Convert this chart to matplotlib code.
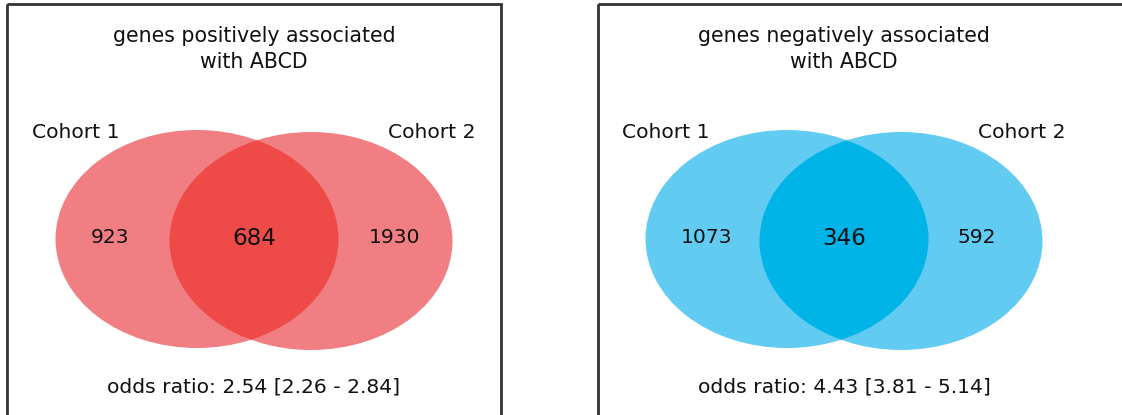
import matplotlib.pyplot as plt
from matplotlib.patches import Ellipse, Rectangle

# data
titles = ["genes positively associated\nwith ABCD", "genes negatively associated\nwith ABCD"]
set_labels = ["Cohort 1", "Cohort 2"]
only_1 = [923, 1073]
both = [684, 346]
only_2 = [1930, 592]
odds = [2.54, 4.43]
ci_low = [2.26, 3.81]
ci_high = [2.84, 5.14]

light = ["#f07e82", "#62cbf1"]
dark = ["#ee4a47", "#00b4e8"]

W, H = 1122, 415
fig = plt.figure(figsize=(W / 100, H / 100), dpi=100)
ax = fig.add_axes([0, 0, 1, 1])
ax.set_xlim(0, W)
ax.set_ylim(H, 0)
ax.axis("off")

# panel frames (pixel space): left x, right x, venn centre x, label offsets
panels = [(7, 501, 254, -144, 141), (598, 1135, 844, -137, 133)]

for i, (x0, x1, cx, dl, dr) in enumerate(panels):
    ax.add_patch(Rectangle((x0, 4), x1 - x0, H + 20, fill=False,
                           edgecolor="#333333", linewidth=2, zorder=5))

    c1 = (cx - 57, 239)
    c2 = (cx + 57, 241)
    ax.add_patch(Ellipse(c1, 283, 218, facecolor=light[i], edgecolor="none", zorder=1))
    ax.add_patch(Ellipse(c2, 283, 218, facecolor=light[i], edgecolor="none", zorder=1))
    # overlap: second ellipse clipped by the first
    clip = Ellipse(c1, 283, 218, facecolor="none", edgecolor="none")
    ax.add_patch(clip)
    mid = Ellipse(c2, 283, 218, facecolor=dark[i], edgecolor="none", zorder=2)
    ax.add_patch(mid)
    mid.set_clip_path(clip)

    ax.text(cx, 68, titles[i], ha="center", va="baseline", fontsize=14.8,
            linespacing=1.35, color="#111111")
    ax.text(cx - 222, 138, set_labels[0], ha="left", va="baseline", fontsize=14.6, color="#111111")
    ax.text(cx + 222, 138, set_labels[1], ha="right", va="baseline", fontsize=14.6, color="#111111")

    ax.text(cx + dl, 243, str(only_1[i]), ha="center", va="baseline", fontsize=14.6, color="#111111", zorder=3)
    ax.text(cx, 245, str(both[i]), ha="center", va="baseline", fontsize=16.6, color="#111111", zorder=3)
    ax.text(cx + dr, 243, str(only_2[i]), ha="center", va="baseline", fontsize=14.6, color="#111111", zorder=3)

    ax.text(cx, 392, f"odds ratio: {odds[i]:.2f} [{ci_low[i]:.2f} - {ci_high[i]:.2f}]",
            ha="center", va="baseline", fontsize=14.6, color="#111111")

fig.savefig("out.png", dpi=100)
